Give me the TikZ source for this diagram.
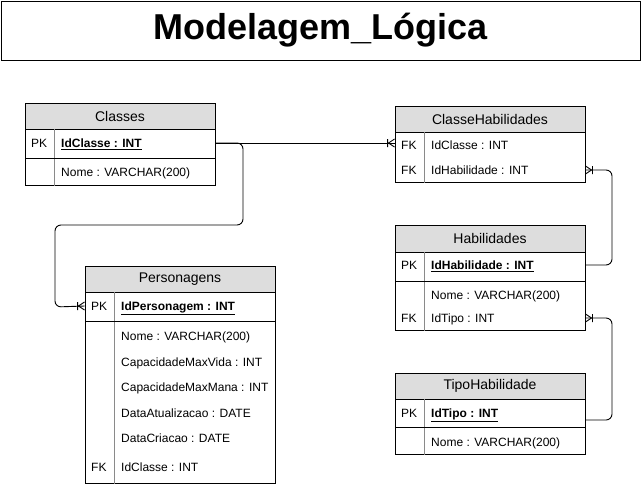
\documentclass[tikz,border=0pt]{standalone}
\usepackage{fontspec}
\setmainfont{Liberation Sans}
\usetikzlibrary{calc}
\definecolor{hdrgray}{HTML}{DDDDDD}
\definecolor{divgray}{HTML}{8A8A8A}
\newcommand\crowfoot[2]{%
  \draw[sepline] ($(#1)+(-7*#2,-4)$) -- ($(#1)+(-7*#2,4)$)
                 ($(#1)+(0,-4)$) -- ($(#1)+(-6*#2,0)$) -- ($(#1)+(0,4)$);}
\tikzset{
  tbl/.style={draw=black, line width=0.9pt, minimum width=190pt, inner sep=0pt},
  hdr/.style={tbl, fill=hdrgray, font=\fontsize{14}{16}\selectfont},
  tblbody/.style={tbl, anchor=north},
  fld/.style={anchor=west, inner sep=0pt, text height=8.6pt, text depth=0pt, font=\fontsize{12}{14}\selectfont},
  keyfld/.style={fld, font=\fontsize{12}{14}\selectfont\bfseries},
  conn/.style={draw=black, line width=0.9pt, rounded corners=6pt},
  sepline/.style={draw=black, line width=0.9pt},
  divl/.style={draw=divgray, line width=1pt},
}
\begin{document}
\begin{tikzpicture}[x=1pt,y=-1pt]
\useasboundingbox (0,0) rectangle (642,485);
% title
\node[draw, line width=1pt, minimum width=639pt, minimum height=59pt, inner sep=0pt,
      font=\fontsize{36}{40}\selectfont\bfseries] (title) at (320.5,30.5) {Modelagem\_Lógica};

% Classes
\node[hdr, minimum height=26pt] (clsH) at (120,116) {Classes};
\node[tblbody, minimum height=56pt] (clsB) at (clsH.south) {};
\draw[divl] ($(clsB.north west)+(30,0)$) -- ($(clsB.south west)+(30,0)$);
\draw[sepline] (25,158) -- (215,158);
\node[fld] (clsPKl) at (31,143) {PK};
\node[keyfld] (clsPK) at (61,143) {\underline{IdClasse : INT}};
\node[fld] (clsNome) at (61,172) {Nome : VARCHAR(200)};

% ClasseHabilidades
\node[hdr, minimum height=26pt] (clhH) at (490,119) {ClasseHabilidades};
\node[tblbody, minimum height=50pt] (clhB) at (clhH.south) {};
\draw[divl] ($(clhB.north west)+(30,0)$) -- ($(clhB.south west)+(30,0)$);
\node[fld] (clhFK1) at (401,145) {FK};
\node[fld] (clhC) at (431,145) {IdClasse : INT};
\node[fld] (clhFK2) at (401,170) {FK};
\node[fld] (clhHab) at (431,170) {IdHabilidade : INT};

% Habilidades
\node[hdr, minimum height=27pt] (habH) at (490,238.5) {Habilidades};
\node[tblbody, minimum height=78pt] (habB) at (habH.south) {};
\draw[divl] ($(habB.north west)+(30,0)$) -- ($(habB.south west)+(30,0)$);
\draw[sepline] (395,281) -- (585,281);
\node[fld] (habPKl) at (401,265) {PK};
\node[keyfld] (habPK) at (431,265) {\underline{IdHabilidade : INT}};
\node[fld] (habNome) at (431,295) {Nome : VARCHAR(200)};
\node[fld] (habFK) at (401,318) {FK};
\node[fld] (habTipo) at (431,318) {IdTipo : INT};

% TipoHabilidade
\node[hdr, minimum height=26pt] (tipoH) at (490,386) {TipoHabilidade};
\node[tblbody, minimum height=55pt] (tipoB) at (tipoH.south) {};
\draw[divl] ($(tipoB.north west)+(30,0)$) -- ($(tipoB.south west)+(30,0)$);
\draw[sepline] (395,427) -- (585,427);
\node[fld] (tipoPKl) at (401,413) {PK};
\node[keyfld] (tipoPK) at (431,413) {\underline{IdTipo : INT}};
\node[fld] (tipoNome) at (431,442) {Nome : VARCHAR(200)};

% Personagens
\node[hdr, minimum height=26pt] (perH) at (180,279) {Personagens};
\node[tblbody, minimum height=191pt] (perB) at (perH.south) {};
\draw[divl] ($(perB.north west)+(30,0)$) -- ($(perB.south west)+(30,0)$);
\draw[sepline] (85,321) -- (275,321);
\node[fld] (perPKl) at (91,306) {PK};
\node[keyfld] (perPK) at (121,306) {\underline{IdPersonagem : INT}};
\node[fld] (perNome) at (121,336) {Nome : VARCHAR(200)};
\node[fld] (perVida) at (121,362) {CapacidadeMaxVida : INT};
\node[fld] (perMana) at (121,387) {CapacidadeMaxMana : INT};
\node[fld] (perAtu) at (121,413) {DataAtualizacao : DATE};
\node[fld] (perCri) at (121,438) {DataCriacao : DATE};
\node[fld] (perFK) at (91,467) {FK};
\node[fld] (perCls) at (121,467) {IdClasse : INT};

% connectors
\coordinate (e1) at (perB.west |- perPK);
\coordinate (e2) at (clhB.west |- clsPK);
\coordinate (e3) at (clhB.east |- clhHab);
\coordinate (e4) at (habB.east |- habTipo);
\coordinate (s4) at ($(tipoB.east |- tipoPK)+(0,7)$);

\draw[conn] (clsB.east |- clsPK) -| (243,225) -| (55,307) -- (e1);
\crowfoot{e1}{1}
\draw[conn] (clsB.east |- clsPK) -- (e2);
\crowfoot{e2}{1}
\draw[conn] (habB.east |- habPK) -| (612,230) |- (e3);
\crowfoot{e3}{-1}
\draw[conn] (s4) -| (612,360) |- (e4);
\crowfoot{e4}{-1}
\end{tikzpicture}
\end{document}
